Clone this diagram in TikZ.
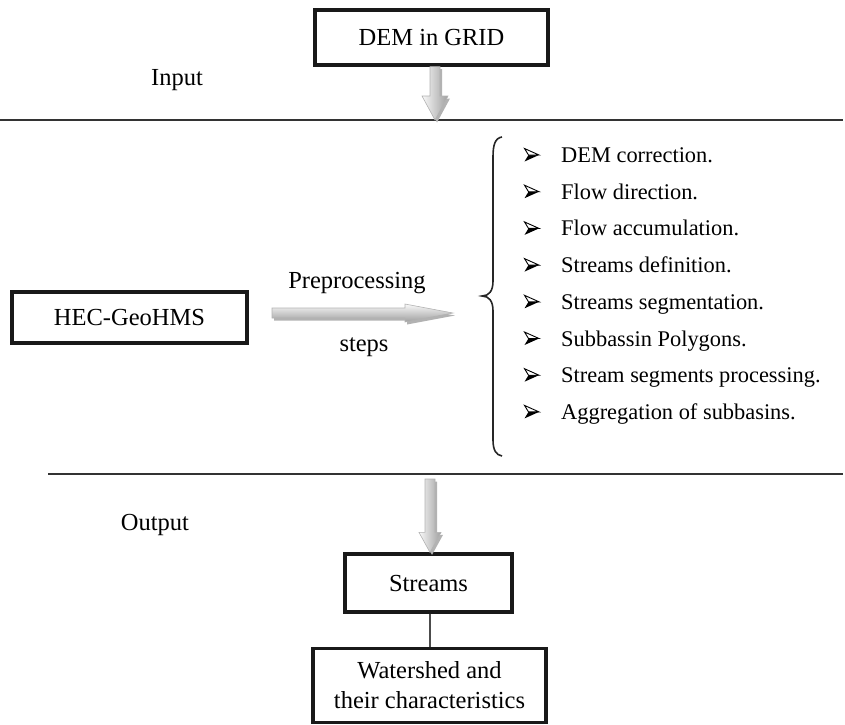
\documentclass[tikz,border=0pt]{standalone}
\usepackage{fontspec}
\setmainfont{Liberation Serif}
\usetikzlibrary{calc}
\tikzset{
  box/.style={draw=black!90, line width=3.2pt, fill=white, inner sep=0pt, align=center,
              font=\fontsize{24.5}{30}\selectfont},
  lbl/.style={inner sep=0pt, font=\fontsize{24.5}{30}\selectfont},
  item/.style={anchor=base west, inner sep=0pt, font=\fontsize{22.4}{27}\selectfont},
  sepline/.style={draw=black!80, line width=1.6pt},
  vshade/.style={left color=gray!5, right color=gray!75, draw=gray!60, line width=0.6pt},
  hshade/.style={top color=gray!5, bottom color=gray!75, draw=gray!60, line width=0.6pt},
  blockshadow/.style={fill=gray!60, draw=none, transform canvas={xshift=2pt, yshift=-2.5pt}},
  linkline/.style={draw=gray!60!black, line width=2.4pt},
  bracestyle/.style={draw=black!85, line width=1.6pt},
}
% downward block arrow: #1 from, #2 tip, #3 half shaft, #4 half head, #5 head length, #6 style
\newcommand\dblock[6]{%
  \path[#6] ($(#1)+(-#3,0)$) -- ($(#1)+(#3,0)$) -- ($(#2)+(#3,-#5)$) -- ($(#2)+(#4,-#5)$)
    -- (#2) -- ($(#2)+(-#4,-#5)$) -- ($(#2)+(-#3,-#5)$) -- cycle;}
% rightward block arrow
\newcommand\rblock[6]{%
  \path[#6] ($(#1)+(0,-#3)$) -- ($(#2)+(-#5,-#3)$) -- ($(#2)+(-#5,-#4)$) -- (#2)
    -- ($(#2)+(-#5,#4)$) -- ($(#2)+(-#5,#3)$) -- ($(#1)+(0,#3)$) -- cycle;}
% 3D arrowhead bullet at #1
\newcommand\arrowbullet[1]{%
  \fill[black] ($(#1)+(7.5,0)$) -- ($(#1)+(-3,0)$) -- ($(#1)+(-7,6.5)$) -- cycle;
  \draw[black, line width=0.9pt, fill=white, line join=miter] ($(#1)+(7.5,0)$) -- ($(#1)+(-7,-6.5)$) -- ($(#1)+(-3,0)$) -- cycle;}
\begin{document}
\begin{tikzpicture}[x=1pt, y=-1pt]
\useasboundingbox (0,0) rectangle (845,724);

% separators
\coordinate (l1a) at (0,120);   \coordinate (l1b) at (843,120);
\coordinate (l2a) at (48,474);  \coordinate (l2b) at (843,474);
\draw[sepline] (l1a) -- (l1b);
\draw[sepline] (l2a) -- (l2b);

% boxes
\node[box, minimum width=233pt, minimum height=55pt] (dem) at (431.5,37.5) {DEM in GRID};
\node[box, minimum width=235pt, minimum height=51pt] (hec) at (129.5,317.5) {HEC-GeoHMS};
\node[box, minimum width=167pt, minimum height=58pt] (streams) at (428.5,583) {Streams};
\node[box, minimum width=233pt, minimum height=74pt] (ws) at (429.5,685.5) {Watershed and\\their characteristics};

% labels
\node[lbl] (input) at (177,80) {Input};
\node[lbl] (output) at (155,525) {Output};
\node[lbl] (pre) at (357,283) {Preprocessing};
\node[lbl] (steps) at (364,347) {steps};

% top block arrow
\coordinate (topsplit) at (435,120);
\coordinate (topstart) at (dem.south -| topsplit);
\dblock{topstart}{topsplit}{5}{13}{24}{blockshadow}
\dblock{topstart}{topsplit}{5}{13}{24}{vshade}

% preprocessing block arrow
\coordinate (pa) at (272,313);
\coordinate (pb) at (453,313);
\rblock{pa}{pb}{5}{9}{48}{blockshadow}
\rblock{pa}{pb}{5}{9}{48}{hshade}

% bottom block arrow
\coordinate (botstart) at (430,479);
\coordinate (bottip) at (streams.north -| botstart);
\dblock{botstart}{bottip}{5}{11}{20}{blockshadow}
\dblock{botstart}{bottip}{5}{11}{20}{vshade}

% link streams -> watershed
\draw[linkline] (streams.south -| botstart) -- (ws.north -| botstart);

% brace
\draw[bracestyle] (502,137) .. controls (495,138) and (493,145) .. (493,157)
  -- (493,281) .. controls (493,291) and (489,296) .. (482,296)
  .. controls (489,296) and (493,301) .. (493,311)
  -- (493,440) .. controls (493,450) and (496,455) .. (502,456);

% list items
\foreach \t [count=\i from 0] in {DEM correction., Flow direction., Flow accumulation.,
  Streams definition., Streams segmentation., Subbassin Polygons.,
  Stream segments processing., Aggregation of subbasins.}{
  \pgfmathsetmacro\yy{155+36.7*\i}
  \coordinate (b\i) at (531.5,\yy);
  \arrowbullet{b\i}
  \node[item] (it\i) at (561,\yy+7.5) {\t};
}
\end{tikzpicture}
\end{document}
